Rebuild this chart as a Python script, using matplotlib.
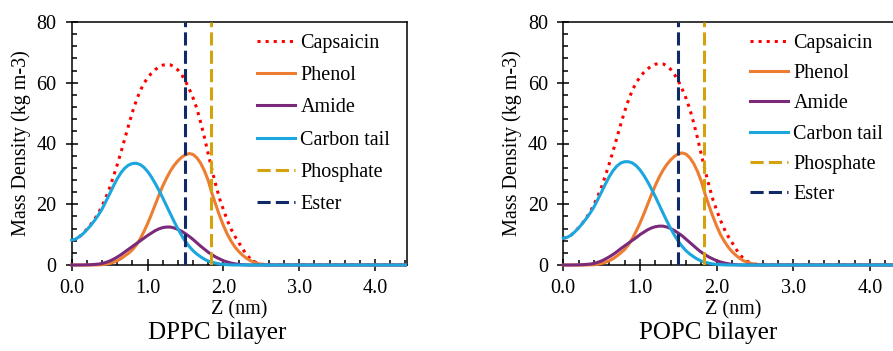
import numpy as np
import matplotlib.pyplot as plt
from matplotlib.ticker import MultipleLocator, FormatStrFormatter

plt.rcParams['font.family'] = ['Liberation Serif', 'DejaVu Serif']

# z positions (nm) and mass densities
z = [0.00, 0.05, 0.10, 0.15, 0.20, 0.25, 0.30, 0.35, 0.40, 0.45,
     0.50, 0.55, 0.60, 0.65, 0.70, 0.75, 0.80, 0.85, 0.90, 0.95,
     1.00, 1.05, 1.10, 1.15, 1.20, 1.25, 1.30, 1.35, 1.40, 1.45,
     1.50, 1.55, 1.60, 1.65, 1.70, 1.75, 1.80, 1.85, 1.90, 1.95,
     2.00, 2.05, 2.10, 2.15, 2.20, 2.25, 2.30, 2.35, 2.40, 2.45,
     2.50, 2.55, 2.60, 4.40]

# DPPC bilayer
dppc_caps = [8.2, 8.5, 9.3, 10.4, 11.8, 13.3, 15.0, 17.0, 19.4, 22.2,
             25.4, 29.1, 33.0, 37.2, 41.6, 46.0, 50.3, 54.0, 57.2, 59.7,
             61.6, 63.1, 64.3, 65.2, 65.8, 66.0, 65.9, 65.3, 64.2, 62.6,
             60.5, 57.9, 55.0, 51.5, 47.0, 42.0, 36.5, 31.2, 26.3, 21.8,
             18.2, 14.8, 11.9, 9.5, 7.5, 5.4, 3.6, 2.2, 1.2, 0.6,
             0.3, 0.1, 0, 0]
dppc_phenol = [0, 0, 0, 0, 0, 0, 0, 0.05, 0.1, 0.25,
               0.5, 0.9, 1.4, 2.1, 3.0, 3.9, 5.0, 6.5, 8.5, 10.9,
               13.6, 16.6, 19.8, 23.0, 26.0, 28.6, 30.9, 32.8, 34.3, 35.5,
               36.3, 36.7, 36.4, 35.3, 33.5, 31.0, 27.8, 23.5, 19.8, 16.2,
               13.0, 10.2, 7.9, 6.0, 4.5, 3.3, 2.3, 1.5, 0.9, 0.5,
               0.25, 0.1, 0, 0]
dppc_amide = [0, 0, 0, 0.02, 0.05, 0.1, 0.2, 0.3, 0.5, 0.85,
              1.3, 1.9, 2.6, 3.4, 4.3, 5.2, 6.1, 7.0, 7.9, 8.8,
              9.7, 10.5, 11.3, 11.9, 12.3, 12.5, 12.5, 12.2, 11.7, 11.1,
              10.3, 9.4, 8.4, 7.3, 6.2, 5.2, 4.2, 3.4, 2.6, 2.0,
              1.4, 1.0, 0.65, 0.4, 0.2, 0.1, 0.05, 0, 0, 0,
              0, 0, 0, 0]
dppc_tail = [8.2, 8.5, 9.3, 10.3, 11.6, 13.0, 14.6, 16.4, 18.4, 20.9,
             23.4, 26.0, 28.4, 30.4, 31.9, 32.9, 33.4, 33.5, 33.1, 32.2,
             30.8, 29.0, 26.9, 24.6, 22.1, 19.5, 16.9, 14.3, 11.9, 9.7,
             7.7, 6.1, 4.7, 3.6, 2.7, 1.9, 1.3, 0.9, 0.6, 0.35,
             0.2, 0.1, 0.05, 0, 0, 0, 0, 0, 0, 0,
             0, 0, 0, 0]

# POPC bilayer
popc_caps = [8.8, 9.1, 9.8, 10.9, 12.3, 13.8, 15.5, 17.5, 19.9, 22.7,
             25.8, 29.5, 33.4, 37.6, 42.0, 46.4, 50.6, 54.3, 57.5, 60.0,
             61.9, 63.4, 64.6, 65.5, 66.1, 66.3, 66.2, 65.6, 64.4, 62.7,
             60.6, 57.9, 54.9, 51.3, 46.8, 41.8, 36.3, 31.0, 26.1, 21.6,
             18.0, 14.7, 11.8, 9.4, 7.4, 5.3, 3.5, 2.1, 1.2, 0.6,
             0.3, 0.1, 0, 0]
popc_phenol = [0, 0, 0, 0, 0, 0, 0, 0.05, 0.1, 0.25,
               0.5, 0.9, 1.4, 2.1, 3.0, 4.0, 5.1, 6.7, 8.7, 11.1,
               13.8, 16.8, 20.0, 23.2, 26.2, 28.9, 31.2, 33.1, 34.6, 35.8,
               36.6, 36.9, 36.5, 35.3, 33.4, 30.8, 27.5, 23.2, 19.5, 16.0,
               12.8, 10.0, 7.8, 5.9, 4.4, 3.2, 2.2, 1.4, 0.9, 0.5,
               0.25, 0.1, 0, 0]
popc_amide = [0, 0, 0, 0.02, 0.05, 0.1, 0.2, 0.3, 0.5, 0.9,
              1.35, 2.0, 2.7, 3.5, 4.4, 5.4, 6.3, 7.2, 8.1, 9.0,
              10.0, 10.8, 11.6, 12.2, 12.6, 12.8, 12.8, 12.5, 12.0, 11.3,
              10.5, 9.6, 8.5, 7.4, 6.3, 5.2, 4.2, 3.4, 2.6, 2.0,
              1.4, 1.0, 0.65, 0.4, 0.2, 0.1, 0.05, 0, 0, 0,
              0, 0, 0, 0]
popc_tail = [8.8, 9.1, 9.8, 10.9, 12.2, 13.7, 15.3, 17.1, 19.1, 21.6,
             24.1, 26.7, 29.1, 31.1, 32.6, 33.6, 34.0, 34.0, 33.6, 32.7,
             31.3, 29.5, 27.4, 25.0, 22.5, 19.8, 17.1, 14.5, 12.0, 9.8,
             7.8, 6.1, 4.7, 3.6, 2.7, 1.9, 1.3, 0.9, 0.6, 0.35,
             0.2, 0.1, 0.05, 0, 0, 0, 0, 0, 0, 0,
             0, 0, 0, 0]

dppc_phosphate = 1.84
dppc_ester = 1.50
popc_phosphate = 1.83
popc_ester = 1.50

W, H = 893, 351
fig = plt.figure(figsize=(W / 100, H / 100), dpi=100)


def panel(rect, caps, phenol, amide, tail, phos, ester, title, tx, leg_xy, spacing):
    ax = fig.add_axes(rect)
    ax.plot(z, caps, ':', color='#FF0000', lw=2.2, label='Capsaicin', zorder=2)
    ax.plot(z, phenol, color='#ED7D31', lw=2.2, label='Phenol', zorder=3, clip_on=False)
    ax.plot(z, amide, color='#7B2A7A', lw=2.2, label='Amide', zorder=3, clip_on=False)
    ax.plot(z, tail, color='#1BA6DE', lw=2.2, label='Carbon tail', zorder=4, clip_on=False)
    ax.axvline(phos, color='#D4A20C', lw=2.2, ls=(0, (4.3, 1.7)), label='Phosphate', zorder=5)
    ax.axvline(ester, color='#0F2A66', lw=2.2, ls=(0, (4.3, 1.7)), label='Ester', zorder=5)

    ax.set_xlim(0, 4.42)
    ax.set_ylim(0, 80)
    ax.xaxis.set_major_locator(MultipleLocator(1))
    ax.xaxis.set_minor_locator(MultipleLocator(0.2))
    ax.xaxis.set_major_formatter(FormatStrFormatter('%.1f'))
    ax.yaxis.set_major_locator(MultipleLocator(20))
    ax.yaxis.set_minor_locator(MultipleLocator(4))
    ax.tick_params(which='major', direction='inout', length=8, width=1.1,
                   labelsize=14.5, colors='black')
    ax.tick_params(which='minor', direction='in', length=3.6, width=1.1)
    ax.tick_params(axis='x', which='major', pad=6)
    ax.tick_params(axis='y', which='major', pad=7)
    for s in ax.spines.values():
        s.set_linewidth(1.1)
    ax.set_xlabel('Z (nm)', fontsize=14.5, labelpad=2)
    ax.set_ylabel('Mass Density (kg m-3)', fontsize=14.5, labelpad=4)
    fig.text(tx / W, 1 - 333 / H, title, fontsize=18, ha='center', va='center')

    ax.legend(loc='upper left', bbox_to_anchor=(leg_xy[0] / W, 1 - leg_xy[1] / H),
              bbox_transform=fig.transFigure, frameon=False, fontsize=14.5,
              handlelength=1.9, handletextpad=0.25, labelspacing=spacing,
              borderpad=0, borderaxespad=0)
    return ax


panel([71.7 / W, 86 / H, 335.3 / W, 243 / H], dppc_caps, dppc_phenol, dppc_amide,
      dppc_tail, dppc_phosphate, dppc_ester, 'DPPC bilayer', 217, (257, 34), 0.65)
panel([563.3 / W, 86 / H, 339 / W, 243 / H], popc_caps, popc_phenol, popc_amide,
      popc_tail, popc_phosphate, popc_ester, 'POPC bilayer', 708, (750, 34), 0.55)

fig.savefig('out.png', dpi=100)
